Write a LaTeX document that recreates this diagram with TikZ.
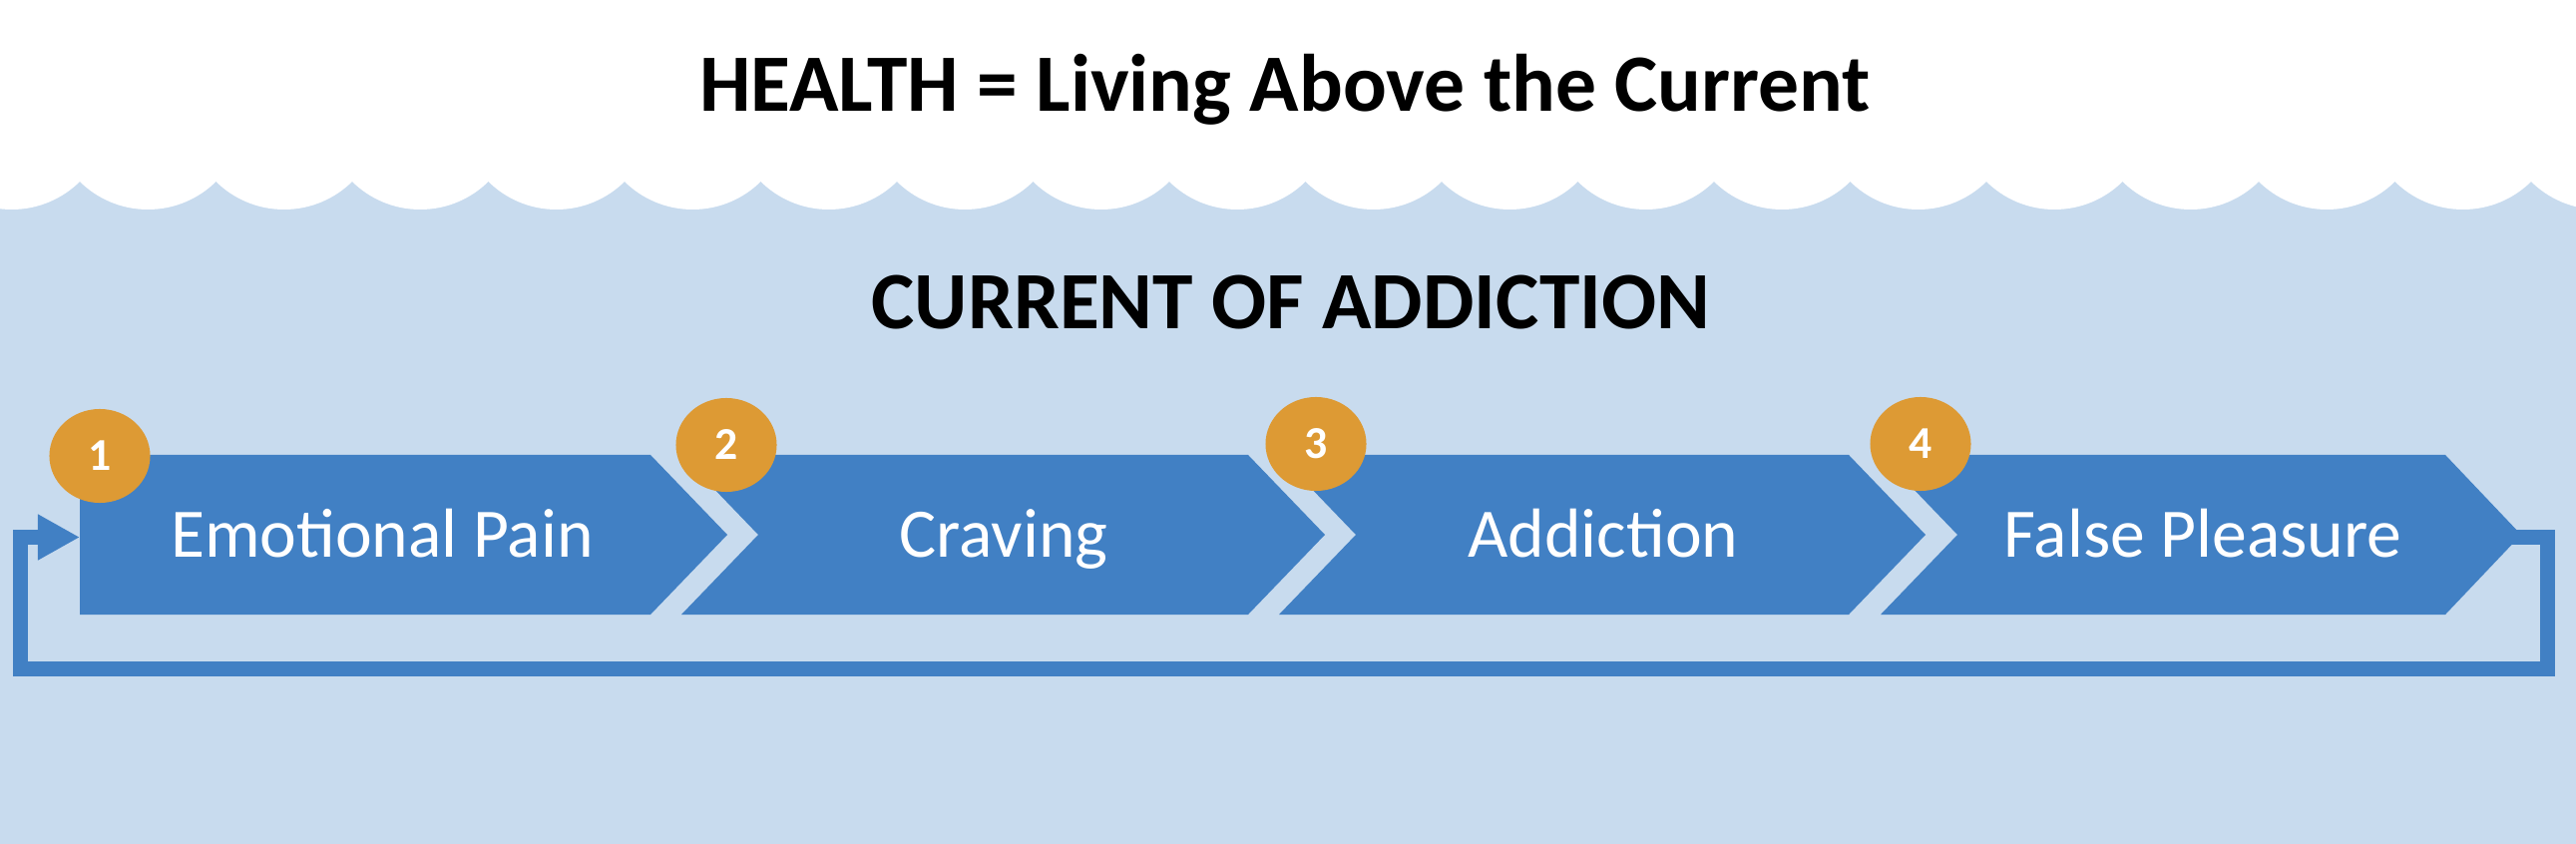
\documentclass[tikz,border=0pt]{standalone}
\usepackage{fontspec}
\setmainfont{Carlito}
\usepackage{tikz}
\usetikzlibrary{arrows.meta}
\usetikzlibrary{shapes.geometric}
\definecolor{seablue}{RGB}{200,219,238}
\definecolor{boxblue}{RGB}{65,128,196}
\definecolor{badge}{RGB}{221,154,52}
\tikzstyle{heading}=[anchor=base, inner sep=0pt, font=\fontsize{23.2}{27}\selectfont\bfseries]
\tikzstyle{stage}=[anchor=base, inner sep=0pt, text=white, font=\fontsize{19.8}{24}\selectfont]
\tikzstyle{num}=[ellipse, inner sep=0pt, fill=badge, minimum width=1.01cm, minimum height=0.94cm, text=white, font=\fontsize{13}{15}\selectfont\bfseries]
\tikzstyle{chev}=[fill=boxblue]
\tikzstyle{loopedge}=[draw=boxblue, line width=0.15cm, line join=miter, -{Triangle[length=0.42cm, width=0.43cm]}]

\begin{document}
\begin{tikzpicture}[x=0.01cm, y=-0.01cm]
	\useasboundingbox (0,0) rectangle (2582,846);
	% water and waves
	\fill[seablue] (0,0) rectangle (2582,846);
	\fill[white] (0,0) rectangle (2582,150);
	\foreach \k in {0,...,19}
		\fill[white] (11.75+136.5*\k,112.8) circle (97.2);
	\draw (1288,112) node[heading] (health) {HEALTH = Living Above the Current};
	\draw (1294,330) node[heading] (current) {CURRENT OF ADDICTION};
	% chevrons
	\fill[chev] (80,456) -- (652,456) -- (729,536) -- (652,616) -- (80,616) -- cycle;
	\fill[chev] (683,456) -- (1251,456) -- (1328,536) -- (1251,616) -- (683,616) -- (760,536) -- cycle;
	\fill[chev] (1282,456) -- (1853,456) -- (1930,536) -- (1853,616) -- (1282,616) -- (1359,536) -- cycle;
	\fill[chev] (1885,456) -- (2451,456) -- (2527,536) -- (2451,616) -- (1885,616) -- (1962,536) -- cycle;
	\draw (383,558) node[stage] (pain) {Emotional Pain};
	\draw (1006,558) node[stage] (craving) {Craving};
	\draw (1607,558) node[stage] (addiction) {Addiction};
	\draw (2208,558) node[stage] (pleasure) {False Pleasure};
	% loop back
	\coordinate (pleasure tip) at (2515,538.5);
	\coordinate (pain in) at (80,538.5);
	\draw[loopedge] (pleasure tip) -| (2553.5,670.5) -| (20.5,538.5) -- (pain in);
	% badges
	\draw (100,457) node[num] (n1) {1};
	\draw (728,446) node[num] (n2) {2};
	\draw (1319,445) node[num] (n3) {3};
	\draw (1925,445) node[num] (n4) {4};
\end{tikzpicture}
\end{document}
